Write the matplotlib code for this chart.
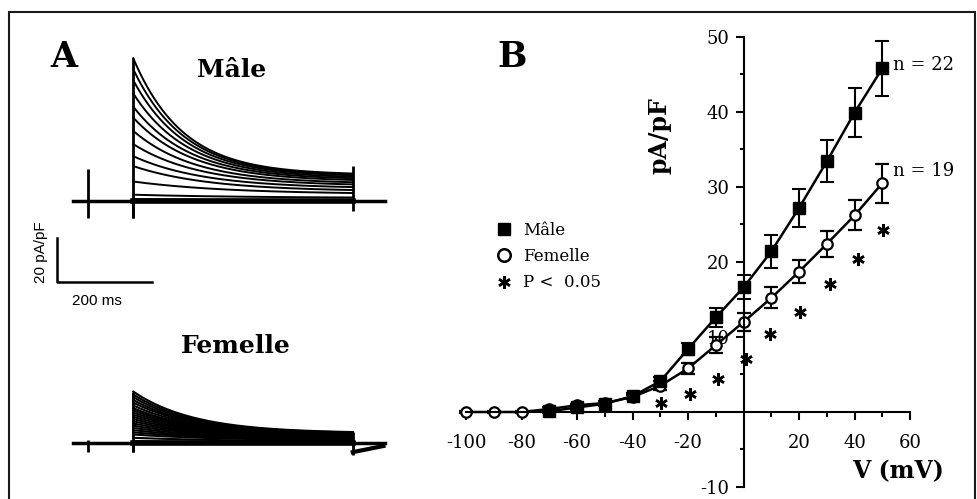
import numpy as np
import matplotlib
matplotlib.use("Agg")
import matplotlib.pyplot as plt
from matplotlib.lines import Line2D
from matplotlib.patches import Rectangle
from matplotlib.ticker import FixedLocator

# ---- Panel B : courbe I-V (pA/pF vs mV) ----
v_all = [-100, -90, -80, -70, -60, -50, -40, -30, -20, -10, 0, 10, 20, 30, 40, 50]
femelle = [0, 0, 0, 0.4, 0.9, 1.2, 2.0, 3.5, 5.8, 8.9, 12.0, 15.2, 18.7, 22.4, 26.2, 30.5]
femelle_err = [0.1, 0.1, 0.1, 0.2, 0.2, 0.3, 0.3, 0.6, 0.7, 1.1, 1.2, 1.4, 1.5, 1.7, 2.0, 2.6]
v_male = [-70, -60, -50, -40, -30, -20, -10, 0, 10, 20, 30, 40, 50]
male = [0.1, 0.6, 1.1, 2.1, 4.1, 8.4, 12.6, 16.6, 21.4, 27.2, 33.4, 39.9, 45.8]
male_err = [0.2, 0.3, 0.3, 0.4, 0.6, 0.8, 1.3, 1.6, 2.2, 2.5, 2.8, 3.3, 3.7]
# asterisques (P < 0.05)
star_v = [-29.8, -19.3, -9.3, 1.0, 9.7, 20.5, 31.1, 41.4, 50.2]
star_i = [1.2, 2.4, 4.4, 7.0, 10.4, 13.3, 17.0, 20.4, 24.3]

x_major = [-100, -80, -60, -40, -20, 20, 40, 60]
x_minor = [-90, -70, -50, -30, -10, 10, 30, 50]
y_major = [-10, 10, 20, 30, 40, 50]
y_minor = [-5, 5, 15, 25, 35, 45]

# ---- Panel A : traces de courant (pA/pF, temps en ms) ----
male_peak = [65, 60, 55, 49, 43, 38, 32, 26, 20.5, 16, 9, 3, 1]
male_end = [12, 11.6, 11.2, 10.5, 9.8, 9, 8, 7, 5.8, 4.5, 3.2, 1.5, 0.5]
male_tau = [105, 108, 110, 115, 120, 125, 130, 140, 150, 160, 200, 250, 300]
fem_peak = [23.5, 22.2, 21.0, 19.7, 18.5, 17.2, 16.0, 15.0, 14.0, 13.0, 12.0, 11.0,
            10.0, 9.0, 8.0, 7.0, 6.0, 5.0, 4.0, 2.5, 1.0]
fem_end = [4.6, 4.45, 4.3, 4.15, 4.0, 3.85, 3.7, 3.55, 3.4, 3.2, 3.0, 2.8,
           2.6, 2.4, 2.2, 1.95, 1.7, 1.45, 1.2, 0.7, 0.3]
fem_tau = [130, 130, 130, 132, 135, 135, 135, 138, 140, 142, 145, 148,
           150, 155, 160, 165, 170, 180, 190, 220, 260]
pulse_end = 465          # ms
trace_span = (-128, 533)  # ms
male_offset = 110         # decalage vertical des traces "Male"
# artefacts capacitifs : temps, bas, haut
art_t = [-95, 0, 465]
male_art_lo = [-7.4, -7.4, -4.5]
male_art_hi = [14.6, 0, 16]
fem_art_lo = [-3.8, -4.0, -5.3]
fem_art_hi = [1.5, 0, 5.3]
fem_tail_t = [465, 530]
fem_tail_i = [-4.0, -1.2]

W, H = 977, 499
fx = lambda px: px / W
fy = lambda py: 1 - py / H

fig = plt.figure(figsize=(W / 100, H / 100), dpi=100)

# cadre
fig.patches.append(Rectangle((fx(9), -0.01), fx(975) - fx(9), fy(12) + 0.01,
                             transform=fig.transFigure, fill=False, lw=1.5, ec='#1a1a1a'))

# ================= Panel A =================
axa = fig.add_axes([0, 0, fx(440), 1])
axa.set_xlim(-282.4, 649.8)
axa.set_ylim(-25.3, 201.5)
axa.axis('off')

t = np.linspace(0, pulse_end, 400)
for pk, ss, tau in zip(fem_peak, fem_end, fem_tau):
    axa.plot(t, ss + (pk - ss) * np.exp(-t / tau), color='k', lw=1.5)
for pk, ss, tau in zip(male_peak, male_end, male_tau):
    axa.plot(t, male_offset + ss + (pk - ss) * np.exp(-t / tau), color='k', lw=1.4)

# lignes de base
axa.plot(trace_span, [0, 0], color='k', lw=2.5)
axa.plot(trace_span, [male_offset, male_offset], color='k', lw=2.5)
axa.plot([0, pulse_end], [male_offset, male_offset], color='k', lw=4)
axa.plot([0, pulse_end], [0, 0], color='k', lw=4)
axa.plot(fem_tail_t, fem_tail_i, color='k', lw=3)
axa.vlines([art_t[1]], [fem_art_lo[1]], [fem_peak[0]], color='k', lw=2)
axa.vlines([art_t[1]], [male_offset + male_art_lo[1]], [male_offset + male_peak[0]], color='k', lw=2)
axa.vlines(art_t, np.array(male_art_lo) + male_offset, np.array(male_art_hi) + male_offset,
           color='k', lw=2)
axa.vlines(art_t, fem_art_lo, fem_art_hi, color='k', lw=2)

# barre d'echelle 20 pA/pF / 200 ms
sb_t, sb_i = -161, 73.2
axa.plot([sb_t, sb_t, sb_t + 200], [sb_i + 20, sb_i, sb_i], color='k', lw=1.8)

sans = ['Liberation Sans', 'DejaVu Sans']
serif = ['DejaVu Serif']
fig.text(fx(41), fy(252.5), '20 pA/pF', rotation=90, ha='center', va='center',
         fontsize=11, family=sans)
fig.text(fx(96.7), fy(305), '200 ms', ha='center', va='baseline', fontsize=11, family=sans)
fig.text(fx(63.5), fy(67), 'A', ha='center', va='baseline', fontsize=25,
         fontweight='bold', family=serif)
fig.text(fx(232), fy(77), 'Mâle', ha='center', va='baseline', fontsize=18,
         fontweight='bold', family=serif)
fig.text(fx(236), fy(352.7), 'Femelle', ha='center', va='baseline', fontsize=18,
         fontweight='bold', family=serif)

# ================= Panel B =================
ax = fig.add_axes([fx(440), 0, 1 - fx(440), 1])
ax.patch.set_alpha(0)
ax.set_xlim(-109.37, 84.14)
ax.set_ylim(-11.6, 54.93)

ax.errorbar(v_all, femelle, yerr=femelle_err, fmt='o-', color='k', mfc='white', mec='k',
            ms=7.5, mew=1.6, lw=1.8, elinewidth=1.5, capsize=4.7, capthick=1.5, zorder=2)
ax.errorbar(v_male, male, yerr=male_err, fmt='s-', color='k', ms=8.5, lw=1.8,
            elinewidth=1.5, capsize=4.7, capthick=1.5, zorder=3)
ax.plot(star_v, star_i, ls='none', marker=(6, 2, 0), ms=9, mew=1.8, color='k', zorder=4)

for s in ['top', 'right']:
    ax.spines[s].set_visible(False)
ax.spines['left'].set_position(('data', 0))
ax.spines['bottom'].set_position(('data', 0))
ax.spines['left'].set_bounds(-10, 50)
ax.spines['bottom'].set_bounds(-100, 60)
for s in ['left', 'bottom']:
    ax.spines[s].set_linewidth(1.5)

ax.xaxis.set_major_locator(FixedLocator(x_major))
ax.xaxis.set_minor_locator(FixedLocator(x_minor))
ax.yaxis.set_major_locator(FixedLocator(y_major))
ax.yaxis.set_minor_locator(FixedLocator(y_minor))
ax.set_xticklabels([str(v) for v in x_major])
ax.set_yticklabels([str(v) for v in y_major])
ax.tick_params(axis='x', which='major', direction='out', length=6, width=1.5, pad=9.5,
               labelsize=13)
ax.tick_params(axis='x', which='minor', direction='out', length=3.5, width=1.5)
ax.tick_params(axis='y', which='major', direction='out', length=6, width=1.5, pad=4,
               labelsize=13)
ax.tick_params(axis='y', which='minor', direction='out', length=3, width=1.5)
for lab in ax.get_xticklabels() + ax.get_yticklabels():
    lab.set_family(serif)

fig.text(fx(660), fy(136), 'pA/pF', rotation=90, ha='center', va='center', fontsize=17,
         fontweight='bold', family=serif)
fig.text(fx(898), fy(471), 'V (mV)', ha='center', va='center', fontsize=17,
         fontweight='bold', family=serif)
fig.text(fx(512), fy(67), 'B', ha='center', va='baseline', fontsize=25,
         fontweight='bold', family=serif)
ax.text(54, 46.3, 'n = 22', ha='left', va='center', fontsize=13, family=serif)
ax.text(54, 32.1, 'n = 19', ha='left', va='center', fontsize=13, family=serif)

handles = [Line2D([], [], ls='none', marker='s', ms=9, color='k'),
           Line2D([], [], ls='none', marker='o', ms=9, mfc='white', mec='k', mew=1.8),
           Line2D([], [], ls='none', marker=(6, 2, 0), ms=9, mew=1.8, color='k')]
ax.legend(handles, ['Mâle', 'Femelle', 'P <  0.05'], loc='upper left',
          bbox_to_anchor=(fx(496), fy(222)), bbox_transform=fig.transFigure,
          frameon=False, handlelength=1.0, handletextpad=0.6, borderpad=0,
          borderaxespad=0, labelspacing=0.55, prop={'family': serif, 'size': 12})

fig.savefig('out.png', dpi=100)
